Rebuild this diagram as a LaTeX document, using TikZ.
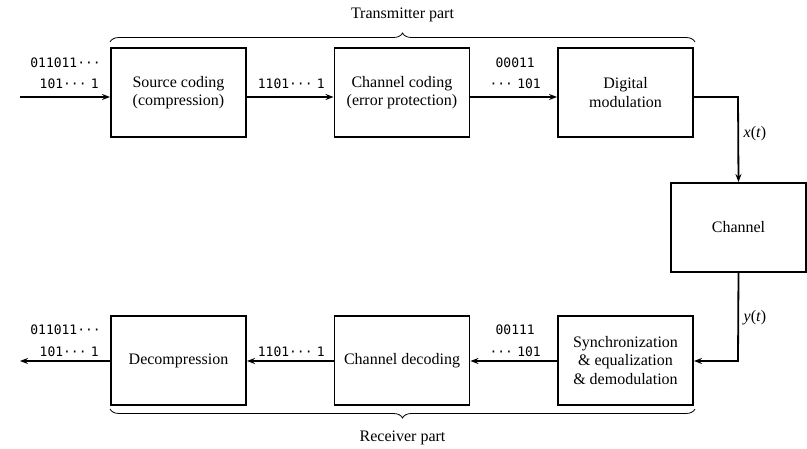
\documentclass[tikz,border=0pt]{standalone}
\usepackage{fontspec}
\setmainfont{Liberation Serif}
\newfontfamily\monof{DejaVu Sans Mono}
\usetikzlibrary{decorations.pathreplacing,arrows.meta}
\begin{document}
\begin{tikzpicture}[x=1pt,y=-1pt,
  blk/.style={draw,line width=1.9pt,minimum width=135pt,minimum height=89pt,align=center,inner sep=0pt,font=\fontsize{16}{18.5}\selectfont},
  conn/.style={line width=1.8pt,-{Stealth[length=8pt,width=6pt]}},
  bits/.style={font=\monof\fontsize{13}{15}\selectfont,inner sep=0pt,anchor=base east},
  lbl/.style={font=\fontsize{16}{18}\selectfont,inner sep=0pt},
  brc/.style={decorate,decoration={brace,amplitude=9pt},line width=0.8pt}]
\useasboundingbox (0,0) rectangle (807,449);
\node[blk] (src) at (178.5,92.5) {Source coding\\(compression)};
\node[blk] (cc) at (402,92.5) {Channel coding\\(error protection)};
\node[blk] (mod) at (625.5,92.5) {Digital\\modulation};
\node[blk] (ch) at (738.5,227.5) {Channel};
\node[blk] (dec) at (178.5,360.5) {Decompression};
\node[blk] (cd) at (402,360.5) {Channel decoding};
\node[blk] (syn) at (625.5,360.5) {Synchronization\\\& equalization\\\& demodulation};
\coordinate (in) at (20,97);
\coordinate (out) at (20,361);
\coordinate (c1) at (738,97);
\coordinate (c2) at (738,361);
\draw[conn] (in) -- (in -| src.west);
\draw[conn] (src.east |- in) -- (cc.west |- in);
\draw[conn] (cc.east |- in) -- (mod.west |- in);
\draw[conn] (mod.east |- c1) -- (c1) -- (ch.north);
\draw[conn] (ch.south) -- (c2) -- (syn.east |- c2);
\draw[conn] (syn.west |- c2) -- (cd.east |- c2);
\draw[conn] (cd.west |- c2) -- (dec.east |- c2);
\draw[conn] (dec.west |- c2) -- (out);
\node[bits] (b1) at (101,68) {011011···};
\node[bits] (b2) at (99,89) {101···\,\,1};
\node[bits] (b3) at (325,89) {1101···\,\,1};
\node[bits] (b4) at (535,68) {00011};
\node[bits] (b5) at (541,89) {···\,\,101};
\node[bits] (b6) at (101,335) {011011···};
\node[bits] (b7) at (99,357) {101···\,\,1};
\node[bits] (b8) at (325,357) {1101···\,\,1};
\node[bits] (b9) at (535,335) {00111};
\node[bits] (b10) at (541,357) {···\,\,101};
\node[lbl] (xt) at (755,134) {\textit{x}(\textit{t})};
\node[lbl] (yt) at (755,318) {\textit{y}(\textit{t})};
\coordinate (t1) at (110,42);
\coordinate (t2) at (695,42);
\coordinate (r1) at (695,409);
\coordinate (r2) at (110,409);
\draw[brc] (t1) -- (t2);
\draw[brc] (r1) -- (r2);
\node[lbl] (tp) at (402.5,15) {Transmitter part};
\node[lbl] (rp) at (402.5,438) {Receiver part};
\end{tikzpicture}
\end{document}
